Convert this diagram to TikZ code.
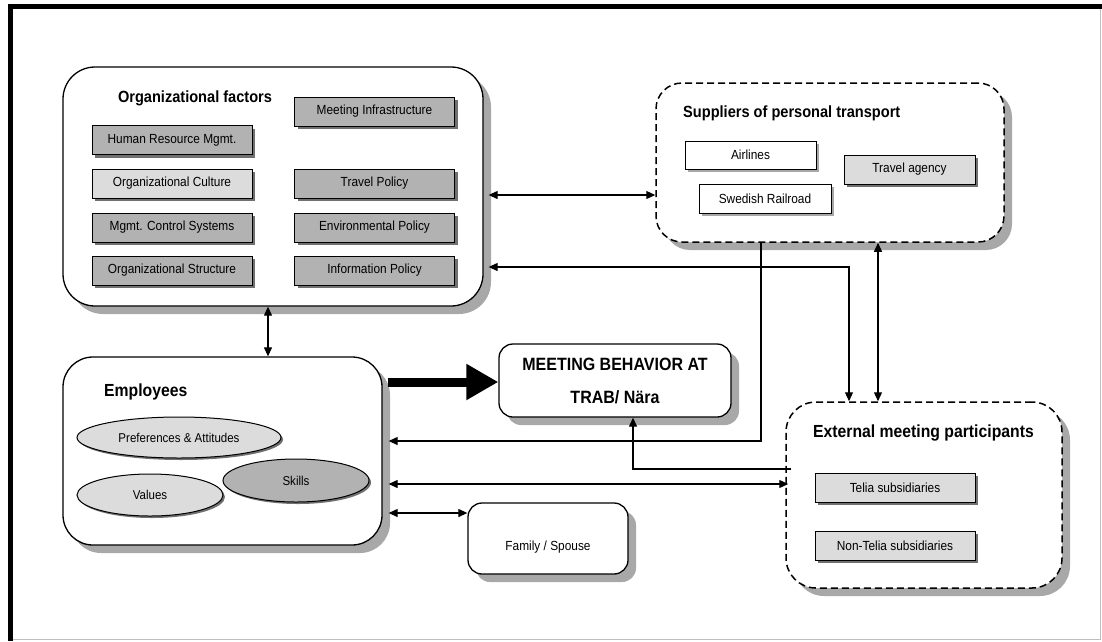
\documentclass[tikz,border=0pt]{standalone}
\usepackage{fontspec}
\setmainfont{Liberation Sans}[FakeStretch=0.9]
\usetikzlibrary{shadows,arrows.meta,calc,shapes.geometric}
\definecolor{boxgray}{RGB}{178,178,178}
\definecolor{lightdot}{RGB}{220,220,220}
\definecolor{bigshadow}{RGB}{168,168,168}
\definecolor{smallshadow}{RGB}{112,112,112}
\begin{document}
\begin{tikzpicture}[x=1pt,y=-1pt,
  >={Triangle[length=9pt,width=8pt]},
  bigbox/.style={draw, line width=1.3pt, rounded corners=#1, fill=white, inner sep=0pt,
    drop shadow={shadow xshift=8pt,shadow yshift=-8pt,fill=bigshadow,opacity=1}},
  dashbox/.style={bigbox=#1, dash pattern=on 7pt off 4pt, line width=1.5pt},
  smallbox/.style={draw, line width=1pt, minimum height=29pt, inner sep=0pt,
    font=\fontsize{13.2}{15}\selectfont, fill=boxgray,
    drop shadow={shadow xshift=3pt,shadow yshift=-3pt,fill=smallshadow,opacity=1}},
  lightbox/.style={smallbox, fill=lightdot},
  whitebox/.style={draw, line width=1pt, minimum height=28pt, inner sep=0pt,
    font=\fontsize{13.2}{15}\selectfont, fill=white,
    drop shadow={shadow xshift=3pt,shadow yshift=-3pt,fill=bigshadow,opacity=1}},
  oval/.style={ellipse, draw, line width=1pt, inner sep=0pt,
    font=\fontsize{12.8}{15}\selectfont,
    drop shadow={shadow xshift=2pt,shadow yshift=-2pt,fill=smallshadow,opacity=1}},
  titlea/.style={inner sep=0pt, font=\bfseries\fontsize{16.2}{18}\selectfont},
  titleb/.style={inner sep=0pt, font=\bfseries\fontsize{17.5}{20}\selectfont},
  conn/.style={line width=1.1pt}
]
\useasboundingbox (0,0) rectangle (1102,641);
% outer frame
\draw[line width=5pt] (10.5,641) -- (10.5,6.5) -- (1102,6.5);
\draw[black!25, line width=1pt] (1100,9) -- (1100,639) -- (13,639);

% big boxes
\node[bigbox=32pt, minimum width=420pt, minimum height=239pt] (org) at (273,186.5) {};
\node[dashbox=26pt, minimum width=348pt, minimum height=159pt] (sup) at (830,162.5) {};
\node[bigbox=30pt, minimum width=319pt, minimum height=188pt] (emp) at (222.5,451) {};
\node[bigbox=14pt, minimum width=232pt, minimum height=73pt, align=center,
      font=\bfseries\fontsize{17.8}{33}\selectfont] (meet) at (615,380.5)
      {MEETING BEHAVIOR AT\\TRAB/ Nära};
\node[bigbox=14pt, minimum width=160pt, minimum height=71pt,
      font=\fontsize{13.2}{15}\selectfont] (fam) at (548,538.5)
      {\raisebox{-12pt}[0pt][0pt]{Family / Spouse}};
\node[dashbox=30pt, minimum width=276pt, minimum height=186pt] (ext) at (924,495) {};

% titles
\node[titlea] (orgt) at (195,98) {Organizational factors};
\node[titlea, anchor=west] (supt) at (683,113) {Suppliers of personal transport};
\node[titleb, anchor=west] (empt) at (104,392) {Employees};
\node[titleb, anchor=west] (extt) at (813,433) {External meeting participants};

% organizational factors
\node[smallbox, minimum width=160pt] (mi) at (374.5,111.5) {Meeting Infrastructure};
\node[smallbox, minimum width=160pt] (hrm) at (172,140) {Human Resource Mgmt.};
\node[lightbox, minimum width=160pt] (oc) at (172,183.5) {Organizational Culture};
\node[smallbox, minimum width=160pt] (tp) at (374.5,183.5) {Travel Policy};
\node[smallbox, minimum width=160pt] (mcs) at (172,227.5) {Mgmt. Control Systems};
\node[smallbox, minimum width=160pt] (ep) at (374.5,227.5) {Environmental Policy};
\node[smallbox, minimum width=160pt] (os) at (172,270.5) {Organizational Structure};
\node[smallbox, minimum width=160pt] (ip) at (374.5,270.5) {Information Policy};

% suppliers
\node[whitebox, minimum width=131pt] (air) at (750.5,155) {Airlines};
\node[whitebox, minimum width=132pt, minimum height=29pt] (rail) at (765,198.5) {Swedish Railroad};
\node[lightbox, minimum width=131pt] (ta) at (909.5,169.5) {Travel agency};

% external
\node[lightbox, minimum width=160pt] (tel) at (895,487.5) {Telia subsidiaries};
\node[lightbox, minimum width=160pt] (ntel) at (895,545.5) {Non-Telia subsidiaries};

% employees ovals
\node[oval, fill=lightdot, minimum width=204pt, minimum height=41pt] (pref) at (179,437.5) {Preferences \& Attitudes};
\node[oval, fill=lightdot, minimum width=146pt, minimum height=42pt] (val) at (150,495) {Values};
\node[oval, fill=boxgray, minimum width=146pt, minimum height=43pt] (sk) at (296,480.5) {Skills};

% connectors
\draw[conn,<->] ($(org.east |- 0,195)+(5,0)$) -- (sup.west |- 0,195);
\draw[conn,->] (sup.south -| 761,0) |- ($(emp.east |- 0,441)+(6,0)$);
\draw[conn,<->] ($(org.east |- 0,267)+(5,0)$) -| (ext.north -| 849,0);
\draw[conn,<->] (sup.south -| 878,0) -- (ext.north -| 878,0);
\draw[conn,->] ($(ext.west |- 0,469)+(6,0)$) -| (meet.south -| 633,0);
\draw[conn,<->] ($(emp.east |- 0,484)+(6,0)$) -- ($(ext.west |- 0,484)+(3,0)$);
\draw[conn,<->] ($(emp.east |- 0,513)+(6,0)$) -- (fam.west |- 0,513);
\draw[conn,<->] (org.south -| 268,0) -- (emp.north -| 268,0);
\draw[line width=9pt, -{Triangle[length=32pt,width=34pt]}]
  ($(emp.east |- 0,382)+(5,0)$) -- (meet.west |- 0,382);
\end{tikzpicture}
\end{document}
